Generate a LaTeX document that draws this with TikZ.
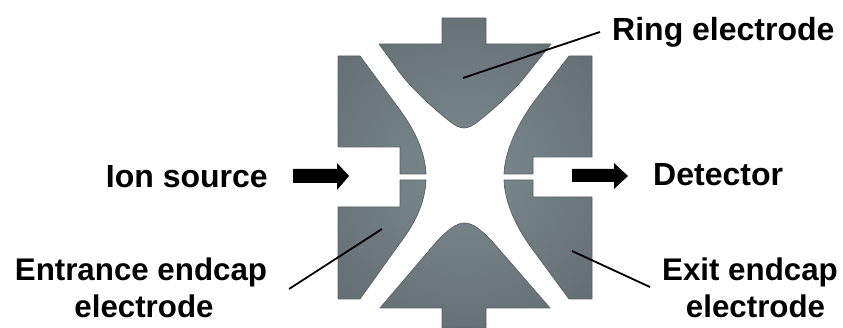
\documentclass[tikz,border=0pt]{standalone}
\usepackage{fontspec}
\setmainfont{Liberation Sans}
\definecolor{elecdark}{HTML}{50595D}
\definecolor{eleclight}{HTML}{7C8A8E}
\definecolor{elecedge}{HTML}{5A6266}
\tikzset{
  lab/.style={font=\bfseries\fontsize{32}{37}\selectfont,align=center,inner sep=0pt,text=black},
  labsmall/.style={lab,font=\bfseries\fontsize{31.3}{37}\selectfont},
  leader/.style={draw=black,line width=1.8pt},
  blockarrow/.style={fill=black,draw=none}
}
\newcommand{\electrode}[1]{%
  \begin{scope}
    \clip #1;
    \shade[inner color=eleclight,outer color=elecdark] (464.5,172) circle[radius=320pt];
  \end{scope}
  \draw[elecedge,line width=0.7pt,line join=round] #1;
}
\begin{document}
\begin{tikzpicture}[x=1pt,y=-1pt]
\useasboundingbox (0,0) rectangle (843,328);
% ring electrode, top and bottom
\electrode{(442,18) -- (486,18) -- (486,44) -- (551,44) -- (528,73) .. controls (515,90) and (495,108) .. (480,120) .. controls (474,125) and (469,128) .. (464,128) .. controls (459,128) and (454,125) .. (448,120) .. controls (433,108) and (413,90) .. (400,73) -- (379,44) -- (442,44) -- cycle}
\electrode{(442,328) -- (486,328) -- (486,308) -- (550,308) -- (491,240) .. controls (481,230) and (473,223) .. (464.5,223) .. controls (456,223) and (448,230) .. (438,240) -- (380,308) -- (442,308) -- cycle}
% entrance endcap
\electrode{(338,56) -- (360,56) -- (400,110) .. controls (413,128) and (425,150) .. (426,174) -- (400,174) -- (400,147) -- (338,147) -- cycle}
\electrode{(338,299) -- (360,299) -- (400,243) .. controls (413,226) and (425,205) .. (426,180) -- (400,180) -- (400,207) -- (338,207) -- cycle}
% exit endcap
\electrode{(592,56) -- (569,56) -- (533,103) .. controls (518,124) and (505,150) .. (504,174) -- (533,174) -- (533,157) -- (592,157) -- cycle}
\electrode{(592,299) -- (569,299) -- (533,250) .. controls (518,230) and (505,205) .. (504,180) -- (533,180) -- (533,197) -- (592,197) -- cycle}
% arrows
\fill[blockarrow] (293,169) -- (337,169) -- (337,163) -- (349,176) -- (337,190) -- (337,183) -- (293,183) -- cycle;
\fill[blockarrow] (572,169) -- (614,169) -- (614,163) -- (628,176) -- (614,189) -- (614,182) -- (572,182) -- cycle;
% labels
\node[lab,anchor=west] (ring) at (612,32) {Ring electrode};
\node[lab,anchor=east] (ion) at (268,177) {Ion source};
\node[lab,anchor=west] (det) at (653,175) {Detector};
\node[labsmall] (ent) at (141,288) {Entrance endcap\\\hspace{6pt}electrode};
\node[labsmall] (exit) at (750,288) {Exit endcap\\\hspace{11pt}electrode};
\coordinate (ringend) at (463,78);
\coordinate (ringstart) at (600,32);
\coordinate (entend) at (382,229);
\coordinate (entstart) at (289,289);
\coordinate (exitend) at (572,251);
\coordinate (exitstart) at (650,287);
\draw[leader] (ringstart) -- (ringend);
\draw[leader] (entstart) -- (entend);
\draw[leader] (exitstart) -- (exitend);
\end{tikzpicture}
\end{document}
